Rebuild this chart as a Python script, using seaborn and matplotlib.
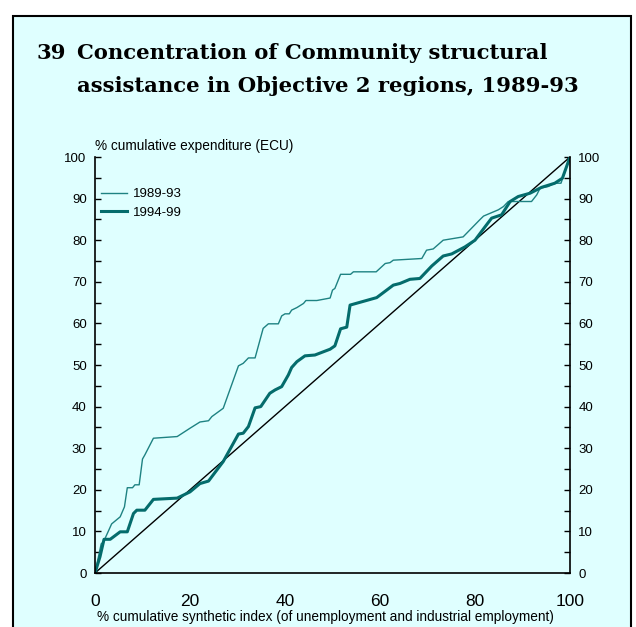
import numpy as np
import pandas as pd
import seaborn as sns
import matplotlib.pyplot as plt
from matplotlib.patches import Rectangle
from matplotlib.ticker import MultipleLocator

## Data
x_8993 = [0, 1.3, 1.8, 3.5, 5.3, 6.2, 6.8, 7.9, 8.4, 9.3, 10.0, 10.5, 12.3, 17.3, 20.0,
          22.1, 23.9, 24.6, 27.0, 30.2, 31.2, 32.3, 33.7, 35.4, 36.5, 38.6, 39.3, 40.0,
          40.9, 41.4, 42.5, 43.9, 44.4, 46.7, 49.5, 50.0, 50.5, 51.7, 53.8, 54.4, 59.2,
          61.1, 62.1, 62.8, 68.8, 69.8, 71.2, 73.3, 77.5, 81.0, 81.8, 84.9, 86.0, 87.0,
          91.9, 93.0, 93.7, 95.4, 96.8, 98.1, 100]
y_8993 = [0, 7.0, 7.5, 11.8, 13.5, 15.9, 20.5, 20.5, 21.2, 21.2, 27.4, 28.4, 32.4, 32.8, 34.8,
          36.3, 36.6, 37.6, 39.6, 49.8, 50.4, 51.7, 51.7, 58.8, 59.9, 59.9, 61.8, 62.3,
          62.3, 63.2, 63.8, 64.8, 65.5, 65.5, 66.1, 68.0, 68.4, 71.8, 71.8, 72.4, 72.4,
          74.4, 74.6, 75.2, 75.6, 77.6, 77.9, 80.0, 80.8, 84.9, 85.8, 87.3, 88.1, 89.3,
          89.3, 90.9, 92.5, 92.9, 93.7, 93.7, 100]

x_9499 = [0, 1.05, 1.9, 3.2, 5.3, 6.8, 8.1, 8.8, 10.5, 12.3, 17.3, 20.0, 22.1, 23.9, 27.0,
          30.2, 31.2, 32.3, 33.7, 34.9, 36.8, 37.9, 39.3, 40.7, 41.4, 42.5, 44.2, 46.3,
          49.5, 50.5, 51.7, 53.0, 53.7, 59.3, 61.4, 62.8, 64.2, 66.3, 68.4, 70.9, 73.3,
          75.1, 77.9, 80.0, 82.1, 83.5, 85.6, 87.4, 89.1, 91.6, 94.0, 96.8, 98.4, 100]
y_9499 = [0, 3.9, 8.1, 8.1, 9.9, 9.9, 14.3, 15.1, 15.1, 17.7, 18.0, 19.5, 21.5, 22.1, 26.8,
          33.4, 33.6, 35.2, 39.7, 40.0, 43.2, 44.0, 44.8, 47.6, 49.4, 50.8, 52.2, 52.4,
          53.8, 54.6, 58.7, 59.1, 64.4, 66.2, 68.0, 69.2, 69.6, 70.6, 70.8, 73.8, 76.2,
          76.7, 78.4, 80.0, 83.2, 85.3, 86.1, 89.3, 90.5, 91.3, 92.7, 93.7, 94.9, 100]

periods = ["1989-93", "1994-99"]
diag = [0, 100]

## Long table for seaborn
df = pd.concat([
    pd.DataFrame({"x": x_8993, "y": y_8993, "period": periods[0]}),
    pd.DataFrame({"x": x_9499, "y": y_9499, "period": periods[1]}),
], ignore_index=True)

bg = "#DFFFFF"
palette = {"1989-93": "#1E8282", "1994-99": "#046C6C"}
sizes = {"1989-93": 1.0, "1994-99": 2.2}

sans = ["Liberation Sans", "DejaVu Sans"]
plt.rcParams["font.family"] = sans

fig = plt.figure(figsize=(6.36, 6.27), dpi=100, facecolor="white")
# Cyan frame (behind the axes)
fig.patches.append(Rectangle((13/636, -0.05), 618/636, 0.9745 + 0.05, transform=fig.transFigure,
                             facecolor=bg, edgecolor="black", linewidth=1.5, zorder=-5))

ax = fig.add_axes([95/636, 54/627, 475/636, 416/627])
ax.set_facecolor(bg)

ax.plot(diag, diag, color="black", linewidth=1.0, zorder=1)
sns.lineplot(data=df, x="x", y="y", hue="period", size="period", palette=palette, sizes=sizes,
             estimator=None, sort=False, ax=ax, zorder=2)

ax.set_xlim(0, 100)
ax.set_ylim(0, 100)
ax.set_xlabel("")
ax.set_ylabel("")
for s in ["left", "right", "bottom"]:
    ax.spines[s].set_color("black")
    ax.spines[s].set_linewidth(1.2)
ax.spines["top"].set_visible(False)

ax.xaxis.set_major_locator(MultipleLocator(20))
ax.yaxis.set_major_locator(MultipleLocator(10))
ax.yaxis.set_minor_locator(MultipleLocator(5))
ax.tick_params(axis="x", length=0, labelsize=12.5, pad=15)
ax.tick_params(axis="y", which="both", direction="in", left=True, right=True,
               labelleft=True, labelright=True, labelsize=9.5, pad=6, width=1.0)
ax.tick_params(axis="y", which="major", length=4)
ax.tick_params(axis="y", which="minor", length=4)

# Legend
handles, labels = ax.get_legend_handles_labels()
ax.legend(handles, labels, loc="upper left", bbox_to_anchor=(0.0125, 0.925), frameon=False,
          fontsize=9.5, handlelength=2.0, handletextpad=0.4, labelspacing=0.45,
          borderpad=0, borderaxespad=0)

# Axis titles
fig.text(95/636, 1 - 146/627, "% cumulative expenditure (ECU)", fontsize=9.8, va="center", ha="left")
fig.text(325/636, 1 - 617/627, "% cumulative synthetic index (of unemployment and industrial employment)",
         fontsize=9.8, va="center", ha="center")

# Title
tfont = dict(family="DejaVu Serif", weight="bold", fontsize=15.2, va="baseline", ha="left")
fig.text(37/636, 1 - 59/627, "39", **tfont)
fig.text(77/636, 1 - 59/627, "Concentration of Community structural", **tfont)
fig.text(77/636, 1 - 92/627, "assistance in Objective 2 regions, 1989-93", **tfont)

plt.savefig("out.png", dpi=100, facecolor="white")
